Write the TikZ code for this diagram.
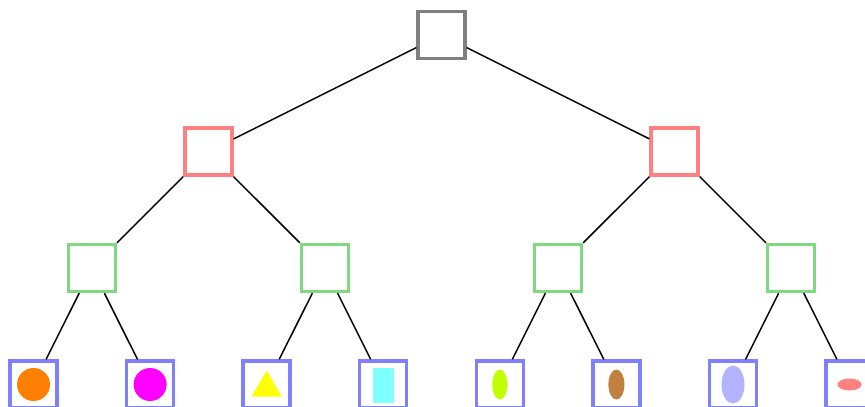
\documentclass[tikz,border=0pt]{standalone}
\usepackage{tikz}
\definecolor{rootgray}{RGB}{128,128,128}
\definecolor{lvlred}{RGB}{255,128,128}
\definecolor{lvlgreen}{RGB}{128,216,128}
\definecolor{leafblue}{RGB}{128,128,255}
\definecolor{dotorange}{RGB}{255,128,0}
\definecolor{dotmagenta}{RGB}{255,0,255}
\definecolor{dotyellow}{RGB}{255,255,0}
\definecolor{dotcyan}{RGB}{128,255,255}
\definecolor{dotlime}{RGB}{191,255,0}
\definecolor{dotbrown}{RGB}{191,128,64}
\definecolor{dotlav}{RGB}{179,179,255}

\begin{document}
\begin{tikzpicture}[x=1pt,y=-1pt,
  box/.style={draw,line width=3.4pt,minimum size=47pt,inner sep=0pt},
  rootbox/.style={box,draw=rootgray},
  redbox/.style={box,draw=lvlred},
  greenbox/.style={box,draw=lvlgreen},
  leafbox/.style={box,draw=leafblue},
  link/.style={line width=1.5pt}]
\useasboundingbox (0,0) rectangle (865,407);
\node[rootbox] (root) at (441.5,35) {};
\node[redbox] (l) at (208.4,151.5) {};
\node[redbox] (r) at (674.6,151.5) {};
\node[greenbox] (ll) at (91.8,268) {};
\node[greenbox] (lr) at (325,268) {};
\node[greenbox] (rl) at (558,268) {};
\node[greenbox] (rr) at (791.2,268) {};
\node[leafbox] (lll) at (33.5,384.5) {};
\node[leafbox] (llr) at (150.1,384.5) {};
\node[leafbox] (lrl) at (266.6,384.5) {};
\node[leafbox] (lrr) at (383.2,384.5) {};
\node[leafbox] (rll) at (499.8,384.5) {};
\node[leafbox] (rlr) at (616.4,384.5) {};
\node[leafbox] (rrl) at (733,384.5) {};
\node[leafbox] (rrr) at (849.5,384.5) {};
% edges
\draw[link] (root) -- (l) (root) -- (r)
  (l) -- (ll) (l) -- (lr) (r) -- (rl) (r) -- (rr)
  (ll) -- (lll) (ll) -- (llr) (lr) -- (lrl) (lr) -- (lrr)
  (rl) -- (rll) (rl) -- (rlr) (rr) -- (rrl) (rr) -- (rrr);
% leaf contents
\fill[dotorange] (lll.center) circle (16.5);
\fill[dotmagenta] (llr.center) circle (16.5);
\fill[dotyellow,shift={(lrl.center)}] (-15,12) -- (15,12) -- (0,-14) -- cycle;
\fill[dotcyan,shift={(lrr.center)}] (-10.5,-16.5) rectangle (10.5,18.5);
\fill[dotlime] (rll.center) ellipse [x radius=7.5,y radius=15];
\fill[dotbrown] (rlr.center) ellipse [x radius=8,y radius=15];
\fill[dotlav] (rrl.center) ellipse [x radius=11.5,y radius=19];
\fill[lvlred] (rrr.center) ellipse [x radius=12,y radius=6];
\end{tikzpicture}
\end{document}
